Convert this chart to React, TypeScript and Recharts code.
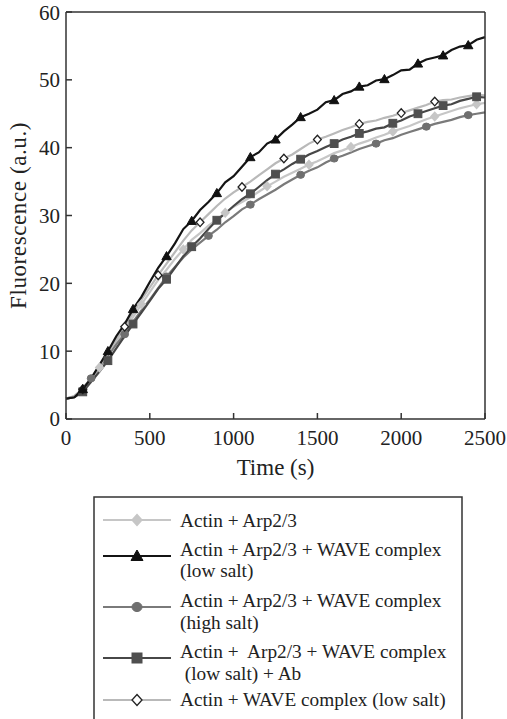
import React from 'react';
import { LineChart, Line, XAxis, YAxis, Label } from 'recharts';

// time grid (s)
const time = [
  0, 50, 100, 150, 200, 250, 300, 350, 400, 450, 500, 550, 600, 650, 700, 750, 800, 850, 900, 950,
  1000, 1050, 1100, 1150, 1200, 1250, 1300, 1350, 1400, 1450, 1500, 1550, 1600, 1650, 1700, 1750,
  1800, 1850, 1900, 1950, 2000, 2050, 2100, 2150, 2200, 2250, 2300, 2350, 2400, 2450, 2500,
];

// Actin + Arp2/3
const arp23 = [
  3.0, 3.3, 4.3, 5.9, 7.6, 9.4, 11.3, 13.1, 15.0, 16.9, 18.7, 20.5, 22.0, 23.6, 25.0, 26.4, 27.4, 28.5, 29.4, 30.4,
  31.3, 32.0, 32.7, 33.5, 34.3, 35.0, 35.7, 36.3, 36.9, 37.5, 38.0, 38.6, 39.2, 39.6, 40.1, 40.6,
  41.0, 41.5, 41.9, 42.4, 42.8, 43.2, 43.7, 44.2, 44.6, 45.0, 45.4, 45.8, 46.1, 46.4, 46.6,
];

// Actin + Arp2/3 + WAVE complex (low salt)
const lowSalt = [
  3.0, 3.2, 4.4, 6.0, 8.0, 10.0, 12.2, 14.0, 16.2, 18.0, 20.2, 22.3, 24.0, 25.9, 28.0, 29.2, 30.8, 32.0, 33.3, 34.9,
  35.8, 37.2, 38.6, 39.3, 40.6, 41.2, 42.4, 43.4, 44.5, 45.0, 45.6, 46.7, 47.0, 47.9, 48.3, 49.0,
  49.2, 49.9, 50.1, 50.7, 51.4, 51.5, 52.4, 53.0, 53.3, 53.6, 54.4, 54.9, 55.1, 55.9, 56.3,
];

// Actin + Arp2/3 + WAVE complex (high salt)
const highSalt = [
  3.0, 3.3, 4.5, 6.0, 7.7, 9.3, 11.0, 12.5, 14.3, 16.0, 17.6, 19.3, 21.0, 22.4, 23.8, 25.0, 26.0, 27.0, 27.9, 29.0,
  29.9, 30.9, 31.6, 32.4, 33.1, 33.8, 34.6, 35.3, 36.0, 36.6, 37.1, 37.8, 38.4, 38.8, 39.3, 39.8,
  40.2, 40.6, 41.1, 41.4, 41.9, 42.3, 42.7, 43.1, 43.5, 43.8, 44.1, 44.5, 44.8, 45.0, 45.2,
];

// Actin + Arp2/3 + WAVE complex (low salt) + Ab
const lowSaltAb = [
  3.0, 3.2, 4.0, 5.5, 7.0, 8.6, 10.4, 12.2, 14.0, 15.7, 17.4, 19.2, 20.6, 22.3, 24.0, 25.4, 26.6, 28.0, 29.3, 30.3,
  31.4, 32.4, 33.2, 34.2, 35.2, 36.1, 36.8, 37.6, 38.3, 39.0, 39.5, 40.1, 40.6, 41.2, 41.6, 42.1,
  42.4, 42.8, 43.0, 43.6, 44.0, 44.6, 45.0, 45.4, 45.8, 46.2, 46.4, 46.9, 47.2, 47.5, 47.4,
];

// Actin + WAVE complex (low salt)
const waveOnly = [
  3.0, 3.4, 4.4, 6.0, 7.8, 9.7, 11.7, 13.6, 15.6, 17.6, 19.4, 21.2, 22.9, 24.6, 26.3, 27.8, 29.0, 30.2, 31.4, 32.5,
  33.4, 34.2, 35.0, 35.9, 36.8, 37.7, 38.4, 39.0, 39.8, 40.6, 41.2, 41.6, 42.1, 42.6, 43.0, 43.5,
  43.8, 44.0, 44.4, 44.7, 45.1, 45.5, 45.9, 46.3, 46.8, 47.0, 47.1, 47.4, 47.6, 47.8, 47.7,
];

// marker times per series
const arpMarks = [200, 450, 700, 950, 1200, 1450, 1700, 1950, 2200, 2450];
const lowMarks = [100, 250, 400, 600, 750, 900, 1100, 1250, 1400, 1600, 1750, 1900, 2100, 2250, 2400];
const highMarks = [150, 350, 600, 850, 1100, 1400, 1600, 1850, 2150, 2400];
const abMarks = [100, 250, 400, 600, 750, 900, 1100, 1250, 1400, 1600, 1750, 1950, 2100, 2250, 2450];
const waveMarks = [100, 350, 550, 800, 1050, 1300, 1500, 1750, 2000, 2200];

const xTicks = [0, 500, 1000, 1500, 2000, 2500];
const yTicks = [0, 10, 20, 30, 40, 50, 60];

const FONT = "'Liberation Serif'";
const AXIS = '#333';
const TEXT = '#222';

const data = time.map((t, i) => ({
  time: t,
  arp: arp23[i],
  low: lowSalt[i],
  high: highSalt[i],
  ab: lowSaltAb[i],
  wave: waveOnly[i],
}));

type Shape = 'diamond' | 'triangle' | 'circle' | 'square';

function Marker({ x, y, shape, fill, stroke, scale = 1 }: any) {
  const s = scale;
  if (shape === 'triangle') {
    return <polygon points={`${x},${y - 6 * s} ${x - 6 * s},${y + 4.5 * s} ${x + 6 * s},${y + 4.5 * s}`} fill={fill} stroke={stroke} strokeWidth={1} />;
  }
  if (shape === 'square') {
    return <rect x={x - 5 * s} y={y - 5 * s} width={10 * s} height={10 * s} fill={fill} stroke={stroke} strokeWidth={1} />;
  }
  if (shape === 'circle') {
    return <ellipse cx={x} cy={y} rx={5 * s} ry={4.6 * s} fill={fill} stroke={stroke} strokeWidth={1} />;
  }
  return <polygon points={`${x},${y - 5.5 * s} ${x + 5 * s},${y} ${x},${y + 5.5 * s} ${x - 5 * s},${y}`} fill={fill} stroke={stroke} strokeWidth={1.3} />;
}

const makeDot = (marks: number[], shape: Shape, fill: string, stroke: string) => (props: any) => {
  const { cx, cy, payload, index } = props;
  if (!marks.includes(payload.time)) return <g key={`n-${index}`} />;
  return <Marker key={`m-${index}`} x={cx} y={cy} shape={shape} fill={fill} stroke={stroke} scale={0.78} />;
};

const series = [
  { key: 'arp', color: '#c6c6c6', shape: 'diamond' as Shape, fill: '#c6c6c6', stroke: '#c6c6c6', marks: arpMarks, lines: ['Actin + Arp2/3'], y: 520 },
  { key: 'high', color: '#7a7a7a', shape: 'circle' as Shape, fill: '#6f6f6f', stroke: '#6f6f6f', marks: highMarks, lines: ['Actin + Arp2/3 + WAVE complex', '(high salt)'], y: 607 },
  { key: 'ab', color: '#474747', shape: 'square' as Shape, fill: '#4f4f4f', stroke: '#4f4f4f', marks: abMarks, lines: ['Actin +  Arp2/3 + WAVE complex', ' (low salt) + Ab'], y: 658 },
  { key: 'wave', color: '#b9b9b9', shape: 'diamond' as Shape, fill: '#ffffff', stroke: '#222', marks: waveMarks, lines: ['Actin + WAVE complex (low salt)'], y: 700 },
  { key: 'low', color: '#141414', shape: 'triangle' as Shape, fill: '#111', stroke: '#111', marks: lowMarks, lines: ['Actin + Arp2/3 + WAVE complex', '(low salt)'], y: 556 },
];

const legendOrder = ['arp', 'low', 'high', 'ab', 'wave'];
const legendTextY: Record<string, number[]> = {
  arp: [520],
  low: [549, 570],
  high: [600, 622],
  ab: [651, 673],
  wave: [699],
};

function ChartLegend() {
  return (
    <svg width={507} height={719} style={{ position: 'absolute', left: 0, top: 0, pointerEvents: 'none' }}>
      <path d="M94,740 L94,497 L462,497 L462,740" fill="none" stroke={AXIS} strokeWidth={1.5} />
      {legendOrder.map((k) => {
        const s = series.find((e) => e.key === k)!;
        return (
          <g key={k}>
            <line x1={103} x2={171} y1={s.y} y2={s.y} stroke={s.color} strokeWidth={2.2} />
            <Marker x={137} y={s.y} shape={s.shape} fill={s.fill} stroke={s.stroke} />
            {s.lines.map((t, i) => (
              <text key={i} x={180} y={legendTextY[k][i]} dy="0.35em" fill={TEXT} style={{ fontFamily: FONT, fontSize: 19.3, whiteSpace: 'pre' }}>
                {t}
              </text>
            ))}
          </g>
        );
      })}
    </svg>
  );
}

export default function App() {
  return (
    <div style={{ position: 'absolute', left: 0, top: 0, width: 507, height: 719, overflow: 'hidden', background: '#fff' }}>
      <LineChart width={507} height={480} data={data} margin={{ top: 2, right: 0, bottom: 0, left: 0 }}>
        <XAxis
          dataKey="time"
          type="number"
          domain={[0, 2500]}
          ticks={xTicks}
          tickSize={-6}
          tickMargin={17}
          height={61}
          stroke={AXIS}
          strokeWidth={1.5}
          tick={{ fontSize: 21, fill: TEXT, style: { fontFamily: FONT } }}
        >
          <Label value="Time (s)" position="insideBottom" offset={5} style={{ fontFamily: FONT, fontSize: 23, fill: TEXT }} />
        </XAxis>
        <XAxis
          xAxisId="top"
          dataKey="time"
          type="number"
          orientation="top"
          domain={[0, 2500]}
          ticks={xTicks}
          tickSize={-6}
          height={10}
          stroke={AXIS}
          strokeWidth={1.5}
          tick={false}
        />
        <YAxis
          type="number"
          domain={[0, 60]}
          ticks={yTicks}
          tickSize={-6}
          tickMargin={12}
          width={66}
          stroke={AXIS}
          strokeWidth={1.5}
          tick={{ fontSize: 21, fill: TEXT, style: { fontFamily: FONT } }}
        >
          <Label
            value="Fluorescence (a.u.)"
            angle={-90}
            position="insideLeft"
            offset={18}
            style={{ fontFamily: FONT, fontSize: 23, fill: TEXT, textAnchor: 'middle', letterSpacing: 0.6 }}
          />
        </YAxis>
        <YAxis yAxisId="right" orientation="right" width={22} stroke={AXIS} strokeWidth={1.5} tick={false} tickLine={false} domain={[0, 60]} />
        {series.map((s) => (
          <Line
            key={s.key}
            dataKey={s.key}
            stroke={s.color}
            strokeWidth={2.2}
            dot={makeDot(s.marks, s.shape, s.fill, s.stroke)}
            activeDot={false}
            isAnimationActive={false}
          />
        ))}
      </LineChart>
      <ChartLegend />
    </div>
  );
}
